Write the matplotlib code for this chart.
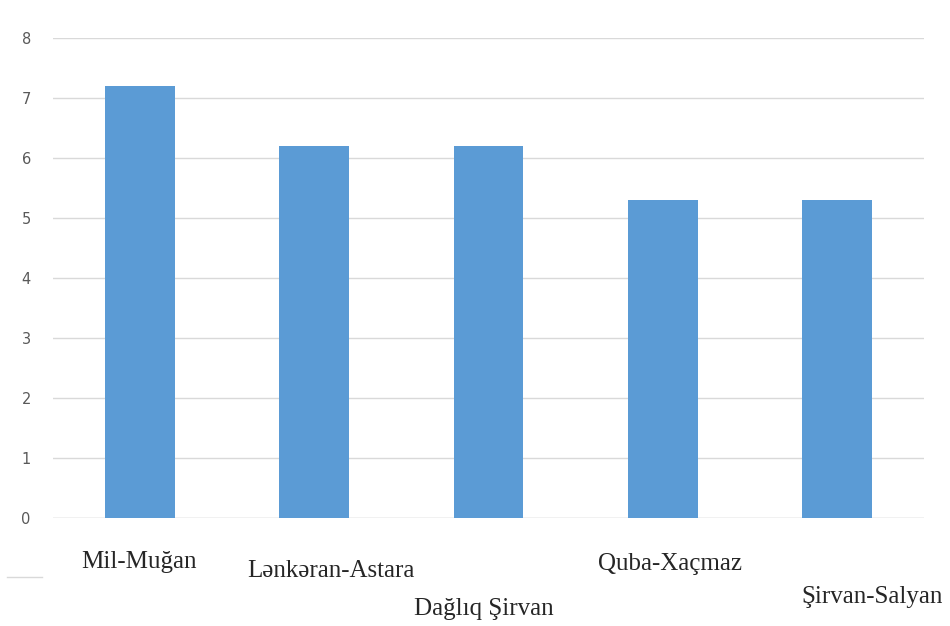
import matplotlib

matplotlib.use("Agg")
import matplotlib.pyplot as plt
from matplotlib.lines import Line2D

regions = ["Mil-Muğan", "Lənkəran-Astara", "Dağlıq Şirvan", "Quba-Xaçmaz", "Şirvan-Salyan"]
values = [7.2, 6.2, 6.2, 5.3, 5.3]
yticks = [0, 1, 2, 3, 4, 5, 6, 7, 8]

# staggered label offsets (pixels from bar centre / axis line)
label_dx = [-1, 17, -5, 7, 35]
label_dy = [-44, -53, -91, -46, -79]

fig = plt.figure(figsize=(9.5, 6.26), dpi=100)
ax = fig.add_axes([0.0558, 0.1725, 0.9168, 0.7668])

x = range(len(regions))
ax.bar(x, values, width=0.4, color="#5B9BD5", zorder=3)
ax.set_xlim(-0.5, len(regions) - 0.5)
ax.set_ylim(0, 8)
ax.set_yticks(yticks)
ax.set_yticklabels([str(t) for t in yticks], color="#595959", fontsize=10.5)
ax.tick_params(axis="y", length=0, pad=16)
ax.set_xticks([])
ax.grid(axis="y", color="#D9D9D9", linewidth=1, zorder=0)
for side in ["top", "right", "left", "bottom"]:
    ax.spines[side].set_visible(False)
ax.axhline(0, color="#D9D9D9", linewidth=1, zorder=2)

for i, name in enumerate(regions):
    ax.annotate(
        name,
        xy=(i, 0),
        xycoords=("data", "axes fraction"),
        xytext=(label_dx[i] * 0.72, label_dy[i] * 0.72),
        textcoords="offset points",
        ha="center",
        va="center",
        fontsize=18,
        family="Liberation Serif",
        color="#262626",
        annotation_clip=False,
    )

fig.add_artist(Line2D([7 / 950, 42 / 950], [1 - 577 / 626] * 2, color="#D9D9D9", linewidth=1))

fig.savefig("out.png", dpi=100)
plt.close(fig)
